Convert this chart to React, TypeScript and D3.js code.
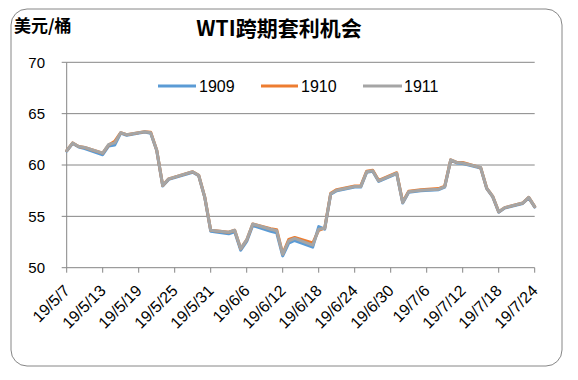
import React from "react";
import * as d3 from "d3";

const dates = [
  "2019-05-07","2019-05-08","2019-05-09","2019-05-10",
  "2019-05-13","2019-05-14","2019-05-15","2019-05-16","2019-05-17",
  "2019-05-20","2019-05-21","2019-05-22","2019-05-23","2019-05-24",
  "2019-05-28","2019-05-29","2019-05-30","2019-05-31",
  "2019-06-03","2019-06-04","2019-06-05","2019-06-06","2019-06-07",
  "2019-06-10","2019-06-11","2019-06-12","2019-06-13","2019-06-14",
  "2019-06-17","2019-06-18","2019-06-19","2019-06-20","2019-06-21",
  "2019-06-24","2019-06-25","2019-06-26","2019-06-27","2019-06-28",
  "2019-07-01","2019-07-02","2019-07-03","2019-07-05",
  "2019-07-08","2019-07-09","2019-07-10","2019-07-11","2019-07-12",
  "2019-07-15","2019-07-16","2019-07-17","2019-07-18","2019-07-19",
  "2019-07-22","2019-07-23","2019-07-24",
];

const s1909 = [
  61.35, 62.1, 61.75, 61.6,
  61.0, 61.85, 61.95, 63.1, 62.9,
  63.2, 63.1, 61.4, 57.95, 58.6,
  59.3, 58.95, 56.85, 53.55,
  53.3, 53.5, 51.7, 52.55, 54.1,
  53.55, 53.4, 51.15, 52.4, 52.65,
  52.0, 54.0, 53.75, 57.15, 57.5,
  57.85, 57.85, 59.3, 59.4, 58.4,
  59.15, 56.3, 57.35, 57.5,
  57.6, 57.85, 60.45, 60.2, 60.15,
  59.7, 57.7, 56.9, 55.4, 55.8,
  56.25, 56.8, 55.9,
];

const s1910 = [
  61.4, 62.15, 61.8, 61.7,
  61.15, 61.95, 62.3, 63.15, 62.95,
  63.25, 63.2, 61.45, 58.0, 58.65,
  59.35, 59.0, 56.9, 53.65,
  53.45, 53.65, 51.85, 52.7, 54.25,
  53.8, 53.7, 51.35, 52.75, 52.95,
  52.4, 53.65, 53.85, 57.25, 57.6,
  57.95, 57.95, 59.4, 59.5, 58.5,
  59.25, 56.4, 57.45, 57.6,
  57.7, 57.95, 60.5, 60.25, 60.25,
  59.75, 57.75, 56.95, 55.45, 55.85,
  56.3, 56.85, 55.95,
];

const s1911 = [
  61.4, 62.15, 61.8, 61.7,
  61.15, 62.0, 62.15, 63.15, 62.95,
  63.25, 63.15, 61.45, 58.0, 58.65,
  59.35, 59.0, 56.9, 53.65,
  53.45, 53.65, 51.85, 52.7, 54.25,
  53.75, 53.6, 51.3, 52.6, 52.85,
  52.2, 53.75, 53.85, 57.2, 57.55,
  57.9, 57.9, 59.35, 59.45, 58.45,
  59.2, 56.35, 57.4, 57.55,
  57.65, 57.9, 60.5, 60.25, 60.2,
  59.75, 57.75, 56.95, 55.45, 55.85,
  56.3, 56.85, 55.95,
];

const seriesNames = ["1909", "1910", "1911"];
const seriesColors = ["#5B9BD5", "#ED7D31", "#A5A5A5"];

const xTickLabels = [
  "19/5/7","19/5/13","19/5/19","19/5/25","19/5/31","19/6/6","19/6/12",
  "19/6/18","19/6/24","19/6/30","19/7/6","19/7/12","19/7/18","19/7/24",
];
const yTicks = [50, 55, 60, 65, 70];

const title = "WTI跨期套利机会";
const unitLabel = "美元/桶";

const parseLabel = (s: string) => {
  const [y, m, d] = s.split("/").map(Number);
  return new Date(Date.UTC(2000 + y, m - 1, d));
};

export default function App() {
  const W = 578, H = 380;
  const left = 66.7, right = 534.7, top = 62.3, bottom = 267.7;
  const parsed = dates.map((d) => new Date(d + "T00:00:00Z"));
  const x = d3
    .scaleUtc()
    .domain([parseLabel(xTickLabels[0]), parseLabel(xTickLabels[xTickLabels.length - 1])])
    .range([left, right]);
  const y = d3.scaleLinear().domain([50, 70]).range([bottom, top]);
  const allSeries = [s1909, s1910, s1911];
  const line = d3
    .line<number>()
    .x((_, i) => x(parsed[i]))
    .y((v) => y(v));

  const font = "'Liberation Sans', Arial, sans-serif";
  const legendItems = [
    { x1: 158, x2: 196, tx: 199 },
    { x1: 261, x2: 298, tx: 301 },
    { x1: 363, x2: 402, tx: 404 },
  ];

  return (
    <svg
      width={W}
      height={H}
      style={{ position: "absolute", left: 0, top: 0, background: "#fff" }}
    >
      <rect x={0} y={0} width={W} height={H} fill="#fff" />
      <rect
        x={11}
        y={9}
        width={551}
        height={357}
        rx={16}
        ry={16}
        fill="#fff"
        stroke="#868686"
        strokeWidth={1}
      />
      <text
        x={279}
        y={36}
        textAnchor="middle"
        fontFamily="'Noto Sans CJK SC', sans-serif"
        fontWeight="bold"
        fontSize={21}
        fill="#000"
      >
        {title}
      </text>
      <text
        x={14}
        y={32}
        fontFamily="'Noto Sans CJK SC', sans-serif"
        fontWeight="bold"
        fontSize={17}
        fill="#000"
      >
        {unitLabel}
      </text>

      {yTicks.map((t) => (
        <g key={t}>
          {t > 50 && (
            <line x1={left} x2={right} y1={y(t)} y2={y(t)} stroke="#868686" strokeWidth={1} />
          )}
          <text
            x={45}
            y={y(t)}
            dy="0.35em"
            textAnchor="end"
            fontFamily={font}
            fontSize={15}
            fill="#000"
          >
            {t}
          </text>
        </g>
      ))}
      <line x1={left} x2={left} y1={top} y2={bottom} stroke="#868686" strokeWidth={1} />
      {yTicks.map((t) => (
        <line key={"yt" + t} x1={left - 5} x2={left} y1={y(t)} y2={y(t)} stroke="#868686" />
      ))}
      <line x1={left} x2={right} y1={bottom} y2={bottom} stroke="#868686" strokeWidth={1} />
      {xTickLabels.map((lab) => {
        const tx = x(parseLabel(lab));
        return (
          <g key={lab}>
            <line x1={tx} x2={tx} y1={bottom} y2={bottom + 5} stroke="#868686" />
            <text
              transform={`translate(${tx + 4},${bottom + 24}) rotate(-45)`}
              textAnchor="end"
              fontFamily={font}
              fontSize={16}
              fill="#000"
            >
              {lab}
            </text>
          </g>
        );
      })}

      {allSeries.map((s, i) => (
        <path
          key={seriesNames[i]}
          d={line(s) || ""}
          fill="none"
          stroke={seriesColors[i]}
          strokeWidth={3}
          strokeLinejoin="round"
          strokeLinecap="round"
        />
      ))}

      {legendItems.map((it, i) => (
        <g key={"lg" + i}>
          <line x1={it.x1} x2={it.x2} y1={86} y2={86} stroke={seriesColors[i]} strokeWidth={3} />
          <text x={it.tx} y={86} dy="0.36em" fontFamily={font} fontSize={16} fill="#000">
            {seriesNames[i]}
          </text>
        </g>
      ))}
    </svg>
  );
}
